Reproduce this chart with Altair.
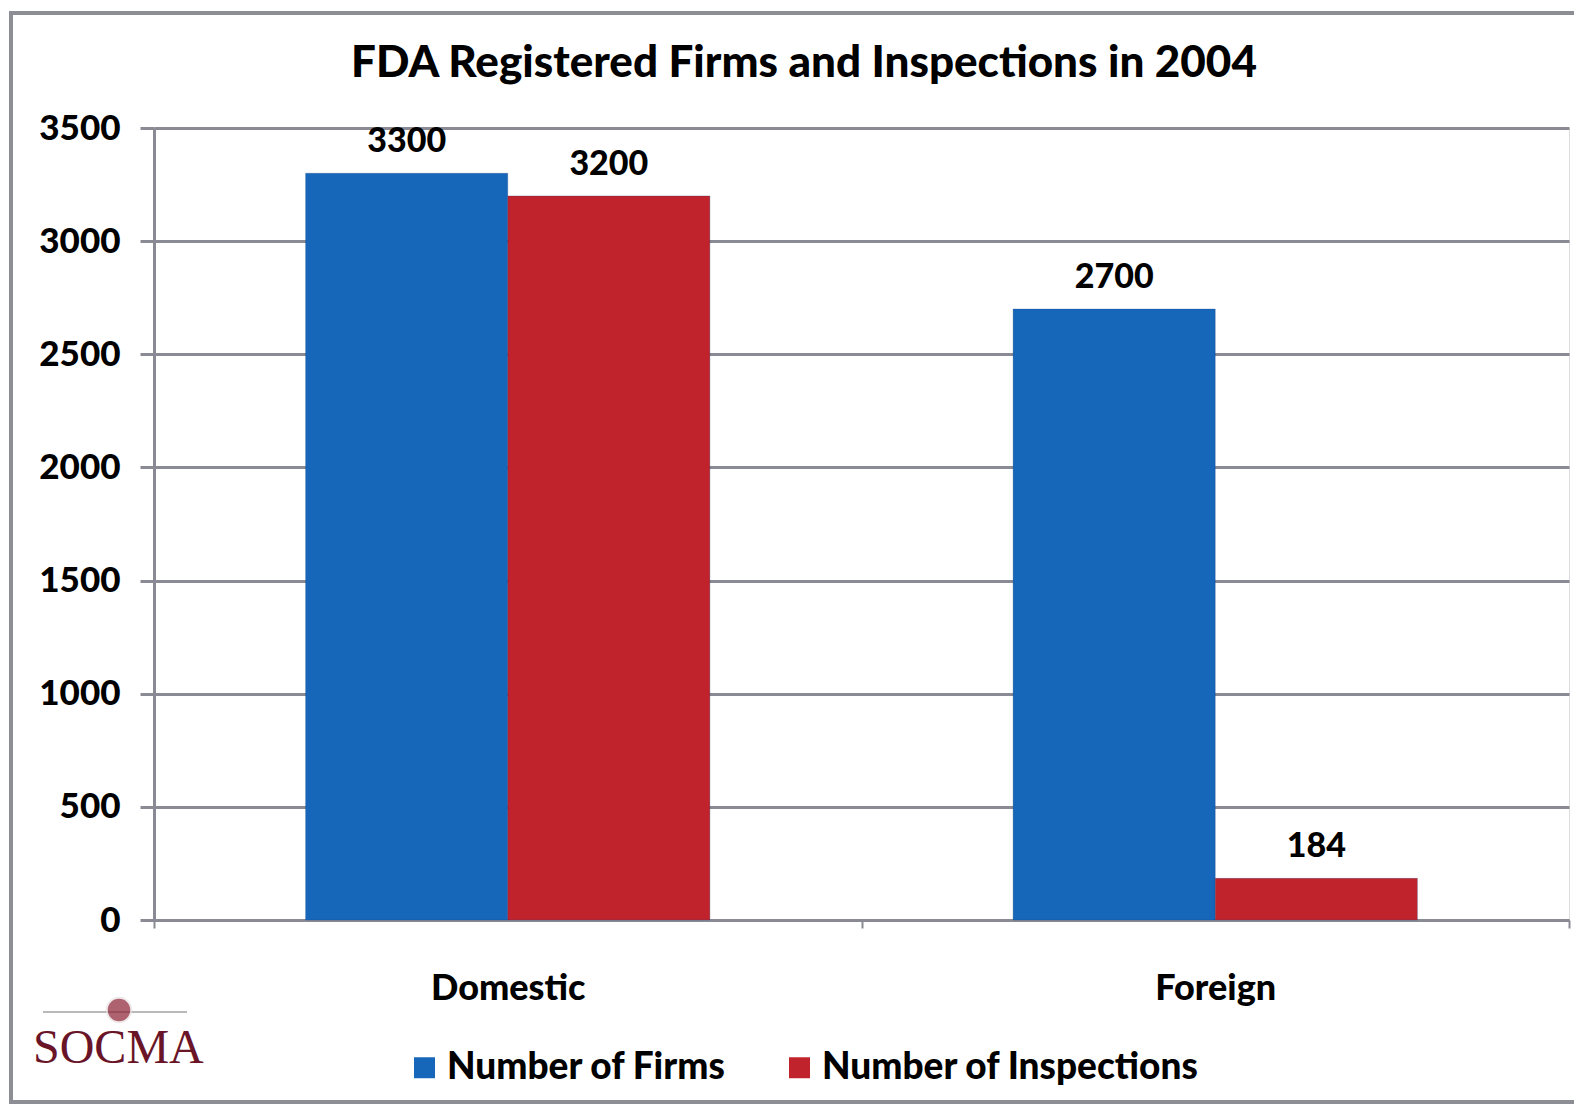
import altair as alt
import pandas as pd

categories = ["Domestic", "Domestic", "Foreign", "Foreign"]
series = ["Number of Firms", "Number of Inspections", "Number of Firms", "Number of Inspections"]
values = [3300, 3200, 2700, 184]
y_ticks = [0, 500, 1000, 1500, 2000, 2500, 3000, 3500]
series_order = ["Number of Firms", "Number of Inspections"]
series_colors = ["#1666b9", "#c1232d"]
title_text = "FDA Registered Firms and Inspections in 2004"

df = pd.DataFrame({"category": categories, "series": series, "value": values})

FONT = "Lato"
W = 900
GRID = "#8a8a94"
FRAME = "#8d8d95"

x = alt.X("category:N", title=None, sort=["Domestic", "Foreign"],
          scale=alt.Scale(paddingInner=0, paddingOuter=0),
          axis=alt.Axis(labelAngle=0, labelFont=FONT, labelFontWeight=W,
                        labelFontSize=36, labelColor="black", labelPadding=43,
                        tickBand="extent", tickSize=8, tickColor=GRID, tickWidth=2,
                        domainColor=GRID, domainWidth=2))
xo = alt.XOffset("series:N", sort=series_order,
                 scale=alt.Scale(paddingInner=0, paddingOuter=0.75))
y = alt.Y("value:Q", title=None,
          scale=alt.Scale(domain=[0, 3500], nice=False),
          axis=alt.Axis(values=y_ticks, format="d", labelFont=FONT, labelFontWeight=W,
                        labelFontSize=35, labelColor="black", labelPadding=20,
                        tickSize=14, tickColor=GRID, tickWidth=3,
                        gridColor=GRID, gridWidth=3, domainColor=GRID, domainWidth=3))
color = alt.Color("series:N", sort=series_order,
                  scale=alt.Scale(domain=series_order, range=series_colors),
                  legend=alt.Legend(title=None, orient="none", direction="horizontal",
                                    legendX=252, legendY=921,
                                    symbolType="square", symbolSize=440,
                                    symbolStrokeWidth=0, labelFont=FONT,
                                    labelFontWeight=W, labelFontSize=37,
                                    labelColor="black", labelOffset=4,
                                    columnPadding=54, labelLimit=600))

bars = alt.Chart(df).mark_bar(strokeWidth=1, stroke="#0e3d75", strokeOpacity=0.25).encode(
    x=x, xOffset=xo, y=y, color=color)

labels = alt.Chart(df).mark_text(dy=-14, font=FONT, fontWeight=W, fontSize=34,
                                 color="black", baseline="bottom").encode(
    x=alt.X("category:N", sort=["Domestic", "Foreign"]), xOffset=xo,
    y="value:Q", text="value:Q")

frame_df = pd.DataFrame({"f": [0]})
frame_top = alt.Chart(frame_df).mark_rule(color=FRAME, strokeWidth=4).encode(
    x=alt.value(-145), x2=alt.value(1420), y=alt.value(-115))
frame_left = alt.Chart(frame_df).mark_rule(color=FRAME, strokeWidth=4).encode(
    x=alt.value(-143), y=alt.value(-117), y2=alt.value(976))
frame_bottom = alt.Chart(frame_df).mark_rule(color=FRAME, strokeWidth=4).encode(
    x=alt.value(-145), x2=alt.value(1420), y=alt.value(974))

title_df = pd.DataFrame({"t": [title_text]})
title = alt.Chart(title_df).mark_text(font=FONT, fontSize=44, fontWeight=W, color="black",
                                      align="center", baseline="middle").encode(
    x=alt.value(650), y=alt.value(-64), text="t:N")

logo_df = pd.DataFrame({"t": ["SOCMA"]})
logo = alt.Chart(logo_df).mark_text(font="Liberation Serif", fontSize=48,
                                    color="#6a1428", align="left", baseline="alphabetic").encode(
    x=alt.value(-121), y=alt.value(935), text="t:N")
logo_line = alt.Chart(logo_df).mark_rule(color="#b9b9b9", strokeWidth=2).encode(
    x=alt.value(-111), x2=alt.value(33), y=alt.value(884))
logo_ball = alt.Chart(logo_df).mark_point(filled=True, size=600, color="#8c1f33",
                                          stroke="#e8e0e2", strokeWidth=2).encode(
    x=alt.value(-35), y=alt.value(882))

chart = alt.layer(frame_top, frame_left, frame_bottom, bars, labels, title,
                  logo_line, logo_ball, logo).properties(
    width=1415, height=792,
    autosize=alt.AutoSizeParams(type="none"),
    padding={"left": 146, "top": 120, "right": 5, "bottom": 184},
).configure_view(stroke=None).configure(background="white")

chart.save("out.html", embed_options={"renderer": "svg", "actions": False})
